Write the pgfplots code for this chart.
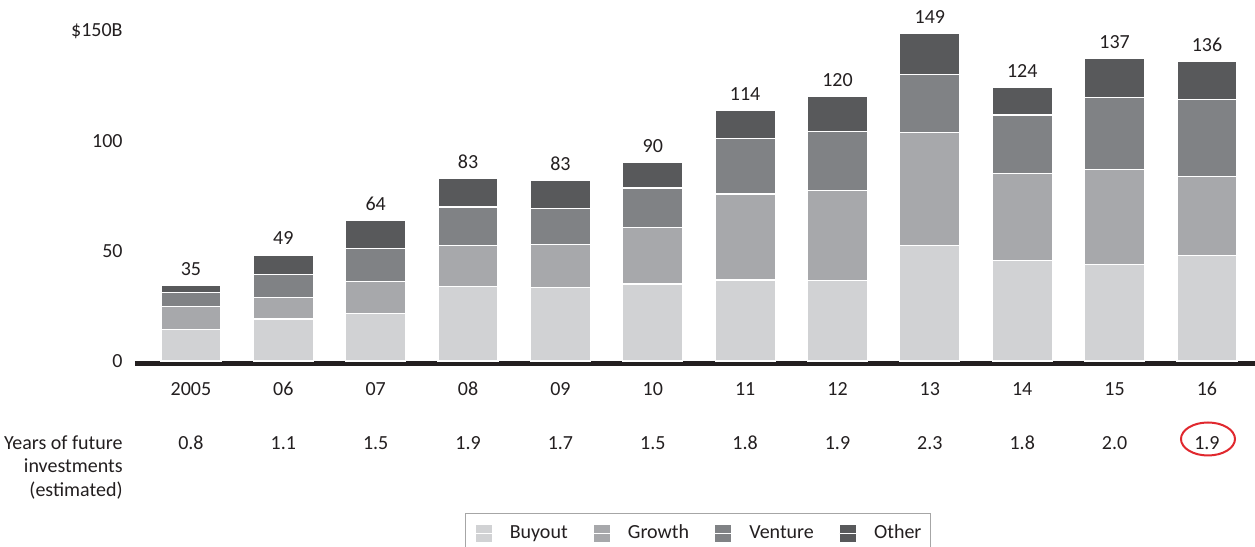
\documentclass[border=0pt]{standalone}
\usepackage{pgfplots}
\usepackage{pgfplotstable}
\pgfplotsset{compat=1.18}
\usepackage{fontspec}
\setmainfont{Carlito}

\definecolor{cBuy}{HTML}{D1D2D4}
\definecolor{cGro}{HTML}{A7A8AB}
\definecolor{cVen}{HTML}{808285}
\definecolor{cOth}{HTML}{58595B}
\definecolor{cTxt}{HTML}{231F20}
\definecolor{cRed}{HTML}{E0282E}

% capital raised by type, $B (2005-2016); top = drawn bar height, tot = label
\pgfplotstableread{
x  buy  gro  ven  oth  top   tot
0  14.5 10.2  6.3  3.2 34.2  35
1  19.1  9.7 10.4  9.0 48.2  49
2  21.7 14.3 15.2 12.6 63.8  64
3  33.8 18.6 17.6 12.8 82.8  83
4  33.5 19.5 16.4 12.8 82.2  83
5  35.0 25.6 18.0 11.5 90.1  90
6  36.8 39.1 25.1 13.0 114.0 114
7  36.5 40.9 26.8 16.2 120.4 120
8  52.6 51.1 26.7 18.6 149.0 149
9  45.6 39.7 26.5 12.7 124.5 124
10 43.8 43.3 32.7 17.7 137.5 137
11 48.0 35.7 35.2 17.1 136.0 136
}\data

\begin{document}
\begin{tikzpicture}
\begin{axis}[
    ybar stacked,
    scale only axis,
    width=560pt, height=165pt,
    bar width=30pt,
    xmin=-0.606, xmax=11.52,
    ymin=0, ymax=150,
    clip=false,
    axis line style={draw=none},
    major tick length=0pt,
    xtick={0,...,11},
    xticklabels={2005,06,07,08,09,10,11,12,13,14,15,16},
    ytick={0,50,100,150},
    yticklabels={0,50,100,\$150B},
    xticklabel style={anchor=base, inner sep=0pt, yshift=-17pt},
    yticklabel style={anchor=east, inner sep=0pt, xshift=-6pt},
    font=\fontsize{10}{12}\selectfont,
    every tick label/.append style={text=cTxt, font=\fontsize{10}{12}\selectfont},
    legend image code/.code={%
        \fill[#1] (0pt,-4.5pt) rectangle (8.5pt,4.5pt);
        \path (0pt,0pt) -- (17pt,0pt);},
    legend columns=4,
    legend style={
        at={(rel axis cs:0.5027,-0.4606)}, anchor=north,
        draw=gray!70, line width=0.6pt, fill=white,
        inner xsep=4.5pt, inner ysep=5pt,
        nodes={inner sep=0pt, text=cTxt, font=\fontsize{10}{12}\selectfont},
        row sep=0pt,
    },
    legend cell align=left,
]
\addplot[fill=cBuy, draw=white, line width=0.6pt] table[x=x, y=buy] {\data};
\addlegendentry{Buyout\hspace*{12.5pt}\mbox{}}
\addplot[fill=cGro, draw=white, line width=0.6pt] table[x=x, y=gro] {\data};
\addlegendentry{Growth\hspace*{12.5pt}\mbox{}}
\addplot[fill=cVen, draw=white, line width=0.6pt] table[x=x, y=ven] {\data};
\addlegendentry{Venture\hspace*{12.5pt}\mbox{}}
\addplot[fill=cOth, draw=white, line width=0.6pt] table[x=x, y=oth] {\data};
\addlegendentry{Other}

% heavy baseline
\draw[cTxt, line width=2.65pt] ([yshift=-1.3pt]rel axis cs:0,0) -- ([yshift=-1.3pt]rel axis cs:1,0);

% years of future investments row
\node[anchor=base, inner sep=0pt, text=cTxt] at (axis cs:0,-40.45) {0.8};
\node[anchor=base, inner sep=0pt, text=cTxt] at (axis cs:1,-40.45) {1.1};
\node[anchor=base, inner sep=0pt, text=cTxt] at (axis cs:2,-40.45) {1.5};
\node[anchor=base, inner sep=0pt, text=cTxt] at (axis cs:3,-40.45) {1.9};
\node[anchor=base, inner sep=0pt, text=cTxt] at (axis cs:4,-40.45) {1.7};
\node[anchor=base, inner sep=0pt, text=cTxt] at (axis cs:5,-40.45) {1.5};
\node[anchor=base, inner sep=0pt, text=cTxt] at (axis cs:6,-40.45) {1.8};
\node[anchor=base, inner sep=0pt, text=cTxt] at (axis cs:7,-40.45) {1.9};
\node[anchor=base, inner sep=0pt, text=cTxt] at (axis cs:8,-40.45) {2.3};
\node[anchor=base, inner sep=0pt, text=cTxt] at (axis cs:9,-40.45) {1.8};
\node[anchor=base, inner sep=0pt, text=cTxt] at (axis cs:10,-40.45) {2.0};
\node[anchor=base, inner sep=0pt, text=cTxt] at (axis cs:11,-40.45) {1.9};
\node[anchor=base east, inner sep=0pt, text=cTxt] at (axis cs:-0.736,-40.45) {Years of future};
\node[anchor=base east, inner sep=0pt, text=cTxt] at (axis cs:-0.736,-50.9) {investments};
\node[anchor=base east, inner sep=0pt, text=cTxt] at (axis cs:-0.736,-61.4) {(estimated)};
\draw[cRed, line width=1pt] (axis cs:11.011,-35.45) ellipse [x radius=13.5pt, y radius=8.25pt];
\end{axis}

% overlay axis for the totals above the bars
\begin{axis}[
    scale only axis,
    width=560pt, height=165pt,
    xmin=-0.606, xmax=11.52,
    ymin=0, ymax=150,
    clip=false,
    hide axis,
]
\addplot[only marks, mark=none, draw=none,
    nodes near coords, point meta=explicit symbolic,
    every node near coord/.append style={anchor=base, text=cTxt, inner sep=0pt, yshift=5pt,
        font=\fontsize{10}{12}\selectfont}]
    table[x=x, y=top, meta=tot] {\data};
\end{axis}
\pgfresetboundingbox
\useasboundingbox (-67.5pt,-93pt) rectangle (560pt,180.5pt);
\end{tikzpicture}
\end{document}
